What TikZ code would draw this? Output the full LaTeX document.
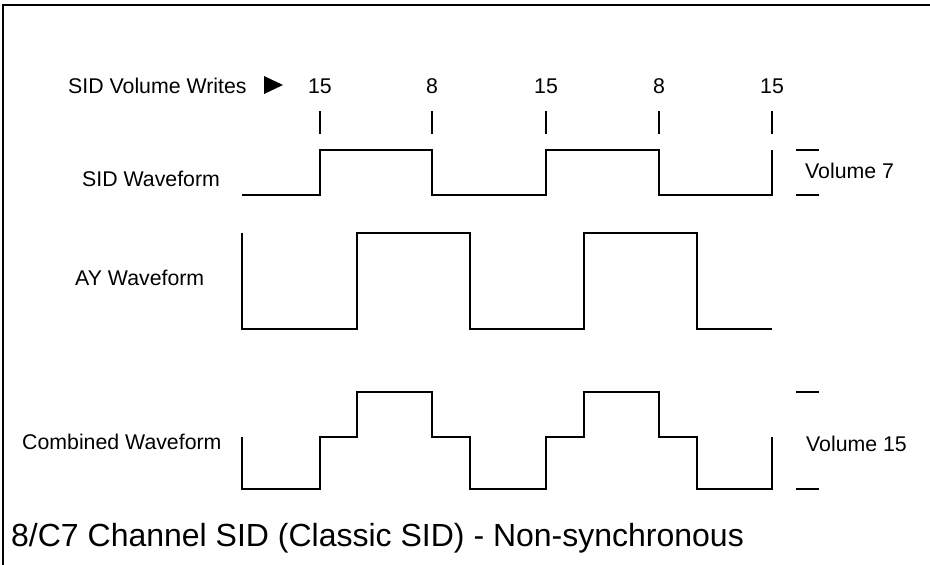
\documentclass[tikz,border=0pt]{standalone}
\usepackage{fontspec}
\setmainfont{Liberation Sans}
\usetikzlibrary{positioning}

\begin{document}
\begin{tikzpicture}[x=1pt, y=-1pt,
    lbl/.style={font=\fontsize{21.3}{24}\selectfont, inner sep=0pt},
    wave/.style={line width=1.8pt},
    vtick/.style={line width=1.4pt}]
  \useasboundingbox (0,0) rectangle (930,565);
  \draw[line width=2.2pt] (3,565) -- (3,5) -- (930,5);

  % labels
  \node[lbl, anchor=base west] (writes) at (68,93) {SID Volume Writes};
  \fill (264,76) -- (283,85) -- (264,94) -- cycle;
  \node[lbl, anchor=base west] (sidwave) at (82,186) {SID Waveform};
  \node[lbl, anchor=base west] (aywave) at (75,285) {AY Waveform};
  \node[lbl, anchor=base west] (combwave) at (22,449) {Combined Waveform};
  \node[lbl, anchor=base west] (vol7) at (805,178) {Volume 7};
  \node[lbl, anchor=base west] (vol15) at (806,451) {Volume 15};
  \node[font=\fontsize{32}{38}\selectfont, inner sep=0pt, anchor=base west] (title)
    at (11,546) {8/C7 Channel SID (Classic SID) - Non-synchronous};

  % volume writes
  \foreach \x/\v [count=\i] in {320/15, 432/8, 546/15, 659/8, 772/15} {
    \node[lbl, anchor=base] (w\i) at (\x,93) {\v};
    \draw[vtick] (\x,111) -- (\x,134);
  }

  % waveforms
  \draw[wave] (242,195) -| (320,150) -| (432,195) -| (546,150) -| (659,195) -| (772,150);
  \draw[wave] (242,233) |- (357,329) |- (470,233) |- (584,329) |- (697,233) |- (772,329);
  \draw[wave] (242,437) |- (320,489) |- (357,437) |- (432,392) |- (470,437)
    |- (546,489) |- (584,437) |- (659,392) |- (697,437) |- (772,489) -- (772,437);

  % volume levels
  \foreach \y in {150, 195, 392, 489}
    \draw[vtick] (796,\y) -- (819,\y);
\end{tikzpicture}
\end{document}
